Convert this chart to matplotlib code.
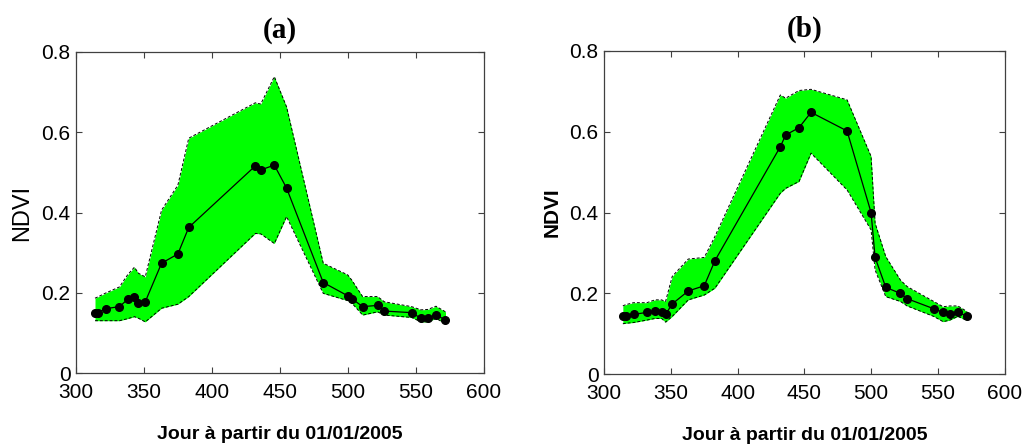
import matplotlib

matplotlib.use("Agg")

import matplotlib.pyplot as plt

plt.rcParams["font.family"] = ["Liberation Sans", "DejaVu Sans"]

GREEN = "#00ff00"
BLACK = "#000000"
SPINE = "#404040"

# Acquisition dates (days since 01/01/2005)
days = [314, 316, 322, 332, 338, 343, 346, 351, 363, 375, 383, 432, 436,
        446, 455, 482, 500, 503, 511, 522, 527, 547, 554, 559, 565, 572]

# Panel (a)
mean_a = [0.151, 0.151, 0.161, 0.166, 0.184, 0.189, 0.176, 0.178, 0.274,
          0.297, 0.363, 0.516, 0.506, 0.518, 0.461, 0.226, 0.193, 0.186,
          0.166, 0.169, 0.155, 0.151, 0.137, 0.137, 0.145, 0.133]
upper_a = [0.187, 0.190, 0.200, 0.215, 0.245, 0.264, 0.249, 0.240, 0.406,
           0.468, 0.585, 0.673, 0.670, 0.738, 0.663, 0.274, 0.245, 0.232,
           0.191, 0.191, 0.178, 0.166, 0.158, 0.159, 0.167, 0.153]
lower_a = [0.131, 0.131, 0.131, 0.131, 0.136, 0.141, 0.137, 0.128, 0.162,
           0.172, 0.191, 0.348, 0.347, 0.323, 0.390, 0.199, 0.181, 0.175,
           0.145, 0.153, 0.145, 0.139, 0.128, 0.128, 0.137, 0.123]

# Panel (b)
mean_b = [0.144, 0.144, 0.148, 0.153, 0.157, 0.153, 0.148, 0.174, 0.206,
          0.219, 0.281, 0.563, 0.592, 0.610, 0.648, 0.602, 0.400, 0.289,
          0.215, 0.200, 0.187, 0.162, 0.153, 0.148, 0.153, 0.144]
upper_b = [0.169, 0.172, 0.177, 0.177, 0.184, 0.184, 0.180, 0.242, 0.285,
           0.289, 0.341, 0.691, 0.683, 0.702, 0.705, 0.679, 0.539, 0.374,
           0.291, 0.233, 0.217, 0.180, 0.167, 0.169, 0.169, 0.155]
lower_b = [0.125, 0.126, 0.128, 0.134, 0.138, 0.138, 0.129, 0.143, 0.184,
           0.196, 0.213, 0.448, 0.460, 0.477, 0.547, 0.456, 0.357, 0.258,
           0.192, 0.180, 0.169, 0.143, 0.130, 0.134, 0.143, 0.133]

x_ticks = [300, 350, 400, 450, 500, 550, 600]
y_ticks = [0, 0.2, 0.4, 0.6, 0.8]
y_ticklabels = ["0", "0.2", "0.4", "0.6", "0.8"]


def draw_panel(ax, mean, upper, lower, title, ylabel_weight, ylabel_size):
    ax.fill_between(days, lower, upper, color=GREEN, linewidth=0, zorder=1)
    ax.plot(days, upper, color=BLACK, linestyle=(0, (3, 2)), linewidth=0.7, zorder=2)
    ax.plot(days, lower, color=BLACK, linestyle=(0, (3, 2)), linewidth=0.7, zorder=2)
    ax.plot(days, mean, color=BLACK, linewidth=0.9, marker="o", markersize=5.5,
            zorder=3)
    ax.set_xlim(300, 600)
    ax.set_ylim(0, 0.8)
    ax.set_xticks(x_ticks)
    ax.set_yticks(y_ticks)
    ax.set_yticklabels(y_ticklabels)
    ax.tick_params(direction="in", top=True, right=True, length=4, width=0.8,
                   color=SPINE, labelsize=15)
    ax.tick_params(axis="x", pad=7)
    ax.tick_params(axis="y", pad=4)
    for s in ax.spines.values():
        s.set_color(SPINE)
        s.set_linewidth(0.9)
    ax.set_xlabel("Jour à partir du 01/01/2005", fontsize=14, fontweight="bold",
                  labelpad=17)
    ax.set_ylabel("NDVI", fontsize=ylabel_size, fontweight=ylabel_weight, labelpad=6)
    ax.set_title(title, fontsize=21, fontweight="bold", family="Liberation Serif",
                 pad=10)


fig = plt.figure(figsize=(10.24, 4.45), dpi=100, facecolor="white")
ax_a = fig.add_axes([0.0742, 0.161, 0.398, 0.7227])
ax_b = fig.add_axes([0.590, 0.159, 0.391, 0.7266])

draw_panel(ax_a, mean_a, upper_a, lower_a, "(a)", "normal", 17)
draw_panel(ax_b, mean_b, upper_b, lower_b, "(b)", "bold", 15)

fig.savefig("out.png", dpi=100, facecolor="white")
